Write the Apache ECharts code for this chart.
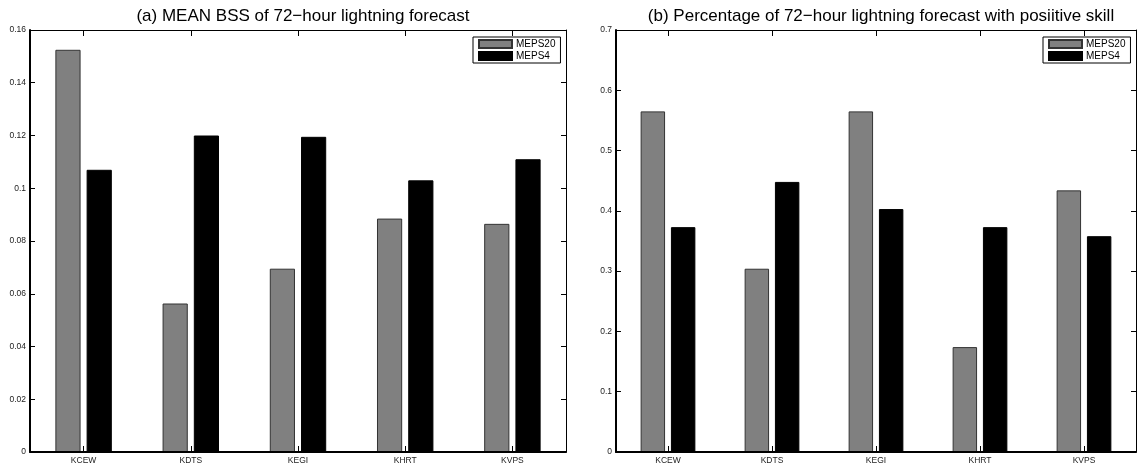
<!DOCTYPE html>
<html>
<head>
<meta charset="utf-8">
<script src="https://cdn.jsdelivr.net/npm/echarts@6/dist/echarts.min.js"></script>
<style>
html,body{margin:0;padding:0;background:#fff;}
#c{width:1146px;height:465px;}
</style>
</head>
<body>
<div id="c"></div>
<script>
const categories = ['KCEW', 'KDTS', 'KEGI', 'KHRT', 'KVPS'];
const seriesNames = ['MEPS20', 'MEPS4'];
const bssMEPS20 = [0.1525, 0.0563, 0.0695, 0.0885, 0.0865];
const bssMEPS4 = [0.107, 0.120, 0.1195, 0.103, 0.111];
const pctMEPS20 = [0.565, 0.304, 0.565, 0.174, 0.434];
const pctMEPS4 = [0.373, 0.448, 0.403, 0.373, 0.358];
const titles = ['(a) MEAN BSS of 72\u2212hour lightning forecast', '(b) Percentage of 72\u2212hour lightning forecast with posiitive skill'];
const yMax = [0.16, 0.7];
const yStep = [0.02, 0.1];

const FONT = '"Liberation Sans", Arial, Helvetica, sans-serif';
const grids = [
  {left: 30, top: 30, width: 536, height: 422},
  {left: 616, top: 30, width: 520, height: 422}
];
const fmt = v => String(+(+v).toFixed(4));

const xAxes = [], yAxes = [], series = [], titleArr = [], legends = [];
grids.forEach((g, i) => {
  xAxes.push({
    type: 'category', gridIndex: i, data: categories, position: 'bottom',
    boundaryGap: true, z: 5,
    axisLine: {onZero: false, lineStyle: {color: '#000', width: 2}},
    axisTick: {show: true, inside: true, length: 6, interval: 0, alignWithLabel: true, lineStyle: {color: '#000', width: 1}},
    axisLabel: {fontFamily: FONT, fontSize: 8.5, color: '#222', margin: 4, interval: 0},
    splitLine: {show: false}
  });
  xAxes.push({
    type: 'category', gridIndex: i, data: categories, position: 'top',
    boundaryGap: true, z: 5,
    axisLine: {show: true, onZero: false, lineStyle: {color: '#000', width: 1}},
    axisTick: {show: true, inside: true, length: 6, interval: 0, alignWithLabel: true, lineStyle: {color: '#000', width: 1}},
    axisLabel: {show: false, interval: 0},
    splitLine: {show: false}
  });
  yAxes.push({
    type: 'value', gridIndex: i, min: 0, max: yMax[i], interval: yStep[i], position: 'left',
    axisLine: {show: true, onZero: false, lineStyle: {color: '#000', width: 2}},
    axisTick: {show: true, inside: true, length: 5, lineStyle: {color: '#000'}},
    axisLabel: {fontFamily: FONT, fontSize: 8.5, color: '#222', margin: 4, formatter: fmt},
    splitLine: {show: false}
  });
  yAxes.push({
    type: 'value', gridIndex: i, min: 0, max: yMax[i], interval: yStep[i], position: 'right',
    axisLine: {show: true, onZero: false, lineStyle: {color: '#000', width: 1}},
    axisTick: {show: true, inside: true, length: 5, lineStyle: {color: '#000'}},
    axisLabel: {show: false},
    splitLine: {show: false}
  });
  titleArr.push({
    text: titles[i],
    left: g.left + g.width / 2, top: 3, textAlign: 'center',
    textStyle: {fontFamily: FONT, fontSize: 17, fontWeight: 'normal', color: '#000'}
  });
  legends.push({
    orient: 'vertical',
    left: g.left + g.width - 93, top: 37,
    data: seriesNames,
    icon: 'rect', itemWidth: 33, itemHeight: 8, itemGap: 0,
    padding: [1, 5, 1, 5],
    borderColor: '#000', borderWidth: 1, backgroundColor: '#fff',
    textStyle: {fontFamily: FONT, fontSize: 10, lineHeight: 12, color: '#000', padding: [0, 0, 0, -1]},
    selectedMode: false
  });
});

const dataSets = [[bssMEPS20, bssMEPS4], [pctMEPS20, pctMEPS4]];
dataSets.forEach((ds, i) => {
  ds.forEach((vals, k) => {
    series.push({
      type: 'bar', name: seriesNames[k],
      xAxisIndex: i * 2, yAxisIndex: i * 2,
      data: vals,
      barWidth: '23.5%', barGap: '24%',
      itemStyle: k === 0 ? {color: '#808080', borderColor: '#333', borderWidth: 1}
                         : {color: '#000', borderColor: '#000', borderWidth: 1},
      animation: false
    });
  });
});

const chart = echarts.init(document.getElementById('c'), null, {renderer: 'canvas'});
chart.setOption({
  backgroundColor: '#fff',
  animation: false,
  title: titleArr,
  legend: legends,
  grid: grids.map(g => Object.assign({containLabel: false, show: false}, g)),
  xAxis: xAxes,
  yAxis: yAxes,
  series: series
});
</script>
</body>
</html>
